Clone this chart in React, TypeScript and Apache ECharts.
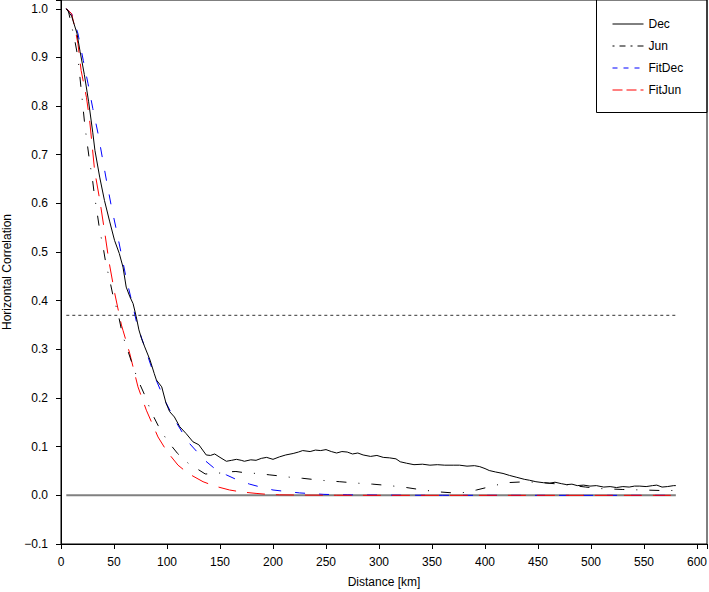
import React, { useEffect, useRef } from 'react';
import * as echarts from 'echarts';

// distance [km] / correlation
const decKm = [5, 10, 15, 18, 22, 26, 30, 32, 36.5, 41, 46, 50.5, 55, 58.5, 61.5, 65, 68, 71, 73.5, 76, 79, 84, 88, 90, 95, 99, 102.5, 107, 112, 118, 124.5, 130, 137, 141, 145, 150, 156, 161, 165.5, 170, 173, 179, 184, 189, 194, 200, 206, 212, 219, 224, 228, 235, 240, 245, 250, 255, 260, 265, 270, 275, 280, 285, 292, 298, 304, 310, 316, 320, 326, 333, 341, 348, 355, 362, 370, 376, 383, 390, 395, 400, 404, 410, 417, 423, 430, 437, 442, 448, 455, 461, 466, 472, 477, 482, 487, 493, 499, 505, 512, 518, 524, 530, 536, 541, 546, 552, 558, 562, 567, 572, 578, 580];
const decVal = [1.0, 0.985, 0.95, 0.912, 0.865, 0.81, 0.745, 0.709, 0.654, 0.606, 0.562, 0.524, 0.497, 0.469, 0.428, 0.408, 0.394, 0.367, 0.34, 0.322, 0.305, 0.278, 0.25, 0.237, 0.223, 0.19, 0.172, 0.161, 0.141, 0.127, 0.11, 0.104, 0.083, 0.082, 0.085, 0.078, 0.07, 0.072, 0.074, 0.072, 0.07, 0.073, 0.072, 0.076, 0.078, 0.074, 0.079, 0.083, 0.086, 0.089, 0.092, 0.09, 0.093, 0.092, 0.094, 0.09, 0.087, 0.09, 0.089, 0.085, 0.087, 0.083, 0.08, 0.082, 0.078, 0.077, 0.075, 0.069, 0.066, 0.063, 0.064, 0.062, 0.063, 0.062, 0.062, 0.062, 0.06, 0.061, 0.059, 0.055, 0.051, 0.048, 0.045, 0.041, 0.037, 0.033, 0.031, 0.028, 0.026, 0.025, 0.027, 0.024, 0.022, 0.023, 0.02, 0.021, 0.019, 0.02, 0.017, 0.018, 0.016, 0.018, 0.017, 0.019, 0.019, 0.018, 0.02, 0.021, 0.017, 0.018, 0.02, 0.02];

const junKm = [5, 7, 10, 13, 16, 19, 22.5, 27, 29.6, 31.5, 34, 36.5, 39.6, 42.2, 45.9, 49, 53.8, 58, 66, 72, 79, 85, 91.5, 100, 110, 120, 128, 136, 145, 155, 165, 175, 185, 197, 210, 220, 228, 245, 263, 280, 294, 310, 326, 341, 357, 370, 378, 385, 392, 405, 420, 439, 455, 470, 480, 495, 508, 530, 549, 565, 579];
const junVal = [1.0, 0.995, 0.965, 0.935, 0.9, 0.835, 0.76, 0.686, 0.651, 0.617, 0.582, 0.545, 0.512, 0.478, 0.443, 0.411, 0.374, 0.33, 0.278, 0.24, 0.206, 0.172, 0.144, 0.113, 0.086, 0.066, 0.055, 0.044, 0.044, 0.048, 0.049, 0.046, 0.045, 0.042, 0.039, 0.036, 0.035, 0.031, 0.028, 0.025, 0.023, 0.02, 0.016, 0.011, 0.007, 0.005, 0.005, 0.008, 0.011, 0.018, 0.026, 0.028, 0.026, 0.023, 0.021, 0.017, 0.014, 0.012, 0.011, 0.01, 0.01];

const fitDecKm = [5, 10, 16, 21, 25.5, 30, 35, 39, 43.4, 47.5, 52.3, 57, 61.7, 67.4, 72.6, 74.2, 80.5, 88.4, 97.8, 107.3, 119.8, 135.6, 145, 156, 166, 178, 190, 200, 212, 225, 248, 270, 300, 330, 360, 400, 450, 500, 550, 580];
const fitDecVal = [1.0, 0.99, 0.949, 0.894, 0.846, 0.795, 0.743, 0.694, 0.641, 0.594, 0.545, 0.495, 0.444, 0.393, 0.343, 0.335, 0.295, 0.244, 0.196, 0.155, 0.11, 0.072, 0.055, 0.042, 0.032, 0.023, 0.016, 0.011, 0.008, 0.005, 0.002, 0.001, 0.0005, 0.0002, 0.0001, 0, 0, 0, 0, 0];

const fitJunKm = [5, 10, 13, 16, 19, 24, 27, 31.8, 36.5, 41.2, 45.3, 50.7, 57, 58.5, 64.8, 72.6, 80.5, 91.5, 100, 110.4, 120, 134, 145, 159, 170, 184, 195, 206, 230, 260, 300, 350, 400, 450, 500, 550, 580];
const fitJunVal = [1.0, 0.99, 0.962, 0.928, 0.873, 0.818, 0.771, 0.666, 0.608, 0.541, 0.48, 0.415, 0.35, 0.339, 0.292, 0.223, 0.175, 0.12, 0.09, 0.062, 0.045, 0.028, 0.019, 0.011, 0.007, 0.004, 0.002, 0.001, 0.0005, 0.0002, 0, 0, 0, 0, 0, 0, 0];

const refKm = [5, 580];
const zeroVal = [0, 0];
const eFoldVal = [0.37, 0.37];

const legendNames = ['Dec', 'Jun', 'FitDec', 'FitJun'];
// the legend samples use a finer dash than the curves
const legendDash: (string | number[])[] = ['solid', [2, 5, 6, 5], [5, 6], [10, 4]];

const pairs = (xs: number[], ys: number[]) => xs.map((x, i) => [x, ys[i]]);

const FONT = '"Liberation Sans", Arial, Helvetica, sans-serif';

export default function App() {
    const chartRef = useRef<HTMLDivElement>(null);

    useEffect(() => {
        if (!chartRef.current) return;
        const chart = echarts.init(chartRef.current, undefined, { renderer: 'svg' });

        const option = {
            animation: false,
            textStyle: { fontFamily: FONT },
            grid: {
                left: 61,
                right: 2,
                top: 0,
                bottom: 48,
                outerBoundsMode: 'none',
                containLabel: false,
                show: true,
                borderColor: '#000',
                borderWidth: 1,
            },
            legend: {
                data: legendNames.map((name, i) => ({ name, lineStyle: { type: legendDash[i], width: 1 } })),
                orient: 'vertical',
                left: 612,
                top: 17,
                padding: 0,
                itemWidth: 31,
                itemHeight: 14,
                itemGap: 8,
                itemTextGap: 13,
                itemStyle: { opacity: 0 },
                lineStyle: { width: 1 },
                textStyle: { fontSize: 12, color: '#000', fontFamily: FONT, height: 14, lineHeight: 14 },
            },
            graphic: [
                {
                    type: 'rect',
                    shape: { x: 596.5, y: -1, width: 110.5, height: 113.5 },
                    style: { fill: 'none', stroke: '#000', lineWidth: 1 },
                    z: 10,
                },
            ],
            xAxis: {
                type: 'value',
                min: 0,
                max: 609.4,
                interval: 50,
                name: 'Distance [km]',
                nameLocation: 'middle',
                nameGap: 32,
                nameTextStyle: { fontSize: 12, color: '#000', fontFamily: FONT },
                axisLine: { show: true, onZero: false, lineStyle: { color: '#000', width: 1 } },
                axisTick: { show: true, length: 5, inside: false, lineStyle: { color: '#000' } },
                axisLabel: {
                    fontSize: 12,
                    color: '#000',
                    margin: 12,
                    fontFamily: FONT,
                    formatter: (v: number) => (v % 50 === 0 ? String(v) : ''),
                },
                splitLine: { show: false },
            },
            yAxis: {
                type: 'value',
                min: -0.1,
                max: 1.018,
                interval: 0.1,
                name: 'Horizontal Correlation',
                nameLocation: 'middle',
                nameGap: 48,
                nameTextStyle: { fontSize: 12, color: '#000', fontFamily: FONT },
                axisLine: { show: true, onZero: false, lineStyle: { color: '#000', width: 1 } },
                axisTick: { show: true, length: 5, inside: false, lineStyle: { color: '#000' } },
                axisLabel: {
                    fontSize: 12,
                    color: '#000',
                    margin: 13,
                    fontFamily: FONT,
                    formatter: (v: number) => {
                        if (v > 1.001) return '';
                        const s = v.toFixed(1);
                        return s.startsWith('-') ? '\u2212' + s.slice(1) : s;
                    },
                },
                splitLine: { show: false },
            },
            series: [
                {
                    name: 'zero',
                    type: 'line',
                    data: pairs(refKm, zeroVal),
                    symbol: 'none',
                    silent: true,
                    lineStyle: { color: '#808080', width: 2 },
                    z: 1,
                },
                {
                    name: 'efold',
                    type: 'line',
                    data: pairs(refKm, eFoldVal),
                    symbol: 'none',
                    silent: true,
                    lineStyle: { color: '#333', width: 1, type: [3, 3] },
                    z: 1,
                },
                {
                    name: 'Dec',
                    type: 'line',
                    data: pairs(decKm, decVal),
                    symbol: 'none',
                    itemStyle: { color: '#000' },
                    lineStyle: { color: '#000', width: 1, type: 'solid' },
                    z: 4,
                },
                {
                    name: 'Jun',
                    type: 'line',
                    data: pairs(junKm, junVal),
                    symbol: 'none',
                    itemStyle: { color: '#000' },
                    lineStyle: { color: '#000', width: 1, type: [10, 12, 1, 12] },
                    z: 3,
                },
                {
                    name: 'FitDec',
                    type: 'line',
                    data: pairs(fitDecKm, fitDecVal),
                    symbol: 'none',
                    itemStyle: { color: '#0000ff' },
                    lineStyle: { color: '#0000ff', width: 1, type: [10, 14] },
                    z: 2,
                },
                {
                    name: 'FitJun',
                    type: 'line',
                    data: pairs(fitJunKm, fitJunVal),
                    symbol: 'none',
                    itemStyle: { color: '#ff0000' },
                    lineStyle: { color: '#ff0000', width: 1, type: [18, 11] },
                    z: 2,
                },
            ],
        };

        chart.setOption(option);

        const handleResize = () => chart.resize();
        window.addEventListener('resize', handleResize);
        return () => {
            window.removeEventListener('resize', handleResize);
            chart.dispose();
        };
    }, []);

    return (
        <div
            ref={chartRef}
            style={{ position: 'absolute', left: 0, top: 0, width: '709px', height: '592px', background: '#fff' }}
        />
    );
}
